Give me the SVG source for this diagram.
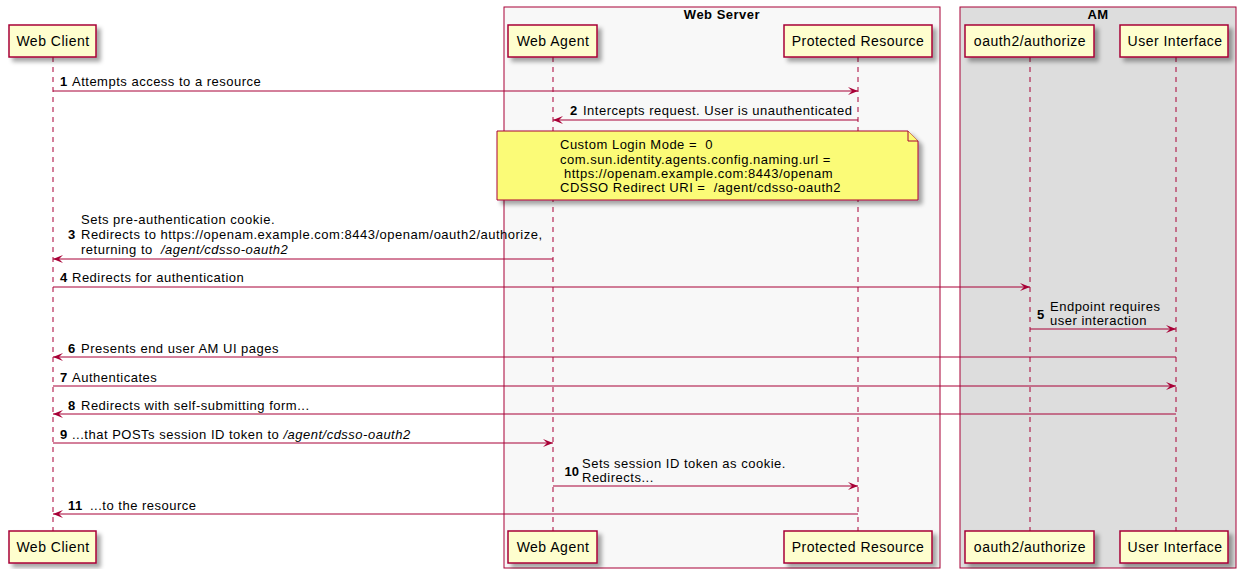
<svg xmlns="http://www.w3.org/2000/svg" width="1241" height="569" viewBox="0 0 1241 569">
<defs>
<filter id="sh" x="-20%" y="-20%" width="150%" height="160%">
<feDropShadow dx="4" dy="4" stdDeviation="2" flood-color="#000" flood-opacity="0.35"/>
</filter>
<marker id="ah" viewBox="0 0 10 8" refX="10" refY="4" markerWidth="10" markerHeight="8" markerUnits="userSpaceOnUse" orient="auto">
<path d="M0,0 L10,4 L0,8 L4,4 Z" fill="#A80036"/>
</marker>
<style>
text{font-family:"Liberation Sans",Arial,sans-serif;fill:#000;letter-spacing:0.5px}
.pt{font-size:14px;text-anchor:middle}
.t{font-size:13px}
.n{font-size:13px;font-weight:bold}
.bt{font-size:13px;font-weight:bold;text-anchor:middle}
.part{fill:#FEFECE;stroke:#A80036;stroke-width:1.5;filter:url(#sh)}
.life{stroke:#A80036;stroke-width:1;stroke-dasharray:5,5;fill:none}
.msg{stroke:#A80036;stroke-width:1;fill:none;marker-end:url(#ah)}
.box{stroke:#A80036;stroke-width:1}
.note{fill:#FBFB77;stroke:#A80036;stroke-width:1}
</style>
</defs>

<g id="box-webserver">
<rect class="box" x="504" y="7" width="436" height="561" fill="#F8F8F8"/>
<text class="bt" x="722" y="19">Web Server</text>
</g>
<g id="box-am">
<rect class="box" x="960" y="7" width="276" height="561" fill="#DDDDDD"/>
<text class="bt" x="1098" y="19">AM</text>
</g>

<g id="lifelines">
<line class="life" x1="53" y1="57" x2="53" y2="531"/>
<line class="life" x1="553" y1="57" x2="553" y2="531"/>
<line class="life" x1="858" y1="57" x2="858" y2="531"/>
<line class="life" x1="1030" y1="57" x2="1030" y2="531"/>
<line class="life" x1="1176" y1="57" x2="1176" y2="531"/>
</g>

<g id="web-client">
<rect class="part" x="9" y="25" width="87" height="32"/>
<text class="pt" x="53" y="46">Web Client</text>
<rect class="part" x="9" y="531" width="87" height="32"/>
<text class="pt" x="53" y="552">Web Client</text>
</g>
<g id="web-agent">
<rect class="part" x="508" y="25" width="89" height="32"/>
<text class="pt" x="553" y="46">Web Agent</text>
<rect class="part" x="508" y="531" width="89" height="32"/>
<text class="pt" x="553" y="552">Web Agent</text>
</g>
<g id="protected-resource">
<rect class="part" x="784" y="25" width="148" height="32"/>
<text class="pt" x="858" y="46">Protected Resource</text>
<rect class="part" x="784" y="531" width="148" height="32"/>
<text class="pt" x="858" y="552">Protected Resource</text>
</g>
<g id="oauth2-authorize">
<rect class="part" x="965" y="25" width="129" height="32"/>
<text class="pt" x="1030" y="46">oauth2/authorize</text>
<rect class="part" x="965" y="531" width="129" height="32"/>
<text class="pt" x="1030" y="552">oauth2/authorize</text>
</g>
<g id="user-interface">
<rect class="part" x="1120" y="25" width="108" height="32"/>
<text class="pt" x="1175" y="46">User Interface</text>
<rect class="part" x="1120" y="531" width="108" height="32"/>
<text class="pt" x="1175" y="552">User Interface</text>
</g>

<g id="note-config">
<path class="note" d="M497,131 L908,131 L918,141 L918,200 L497,200 Z" filter="url(#sh)"/>
<path class="note" d="M908,131 L908,141 L918,141"/>
<text class="t" x="560" y="149" xml:space="preserve">Custom Login Mode =  0</text>
<text class="t" x="560" y="164">com.sun.identity.agents.config.naming.url =</text>
<text class="t" x="564" y="178">https://openam.example.com:8443/openam</text>
<text class="t" x="560" y="192" xml:space="preserve">CDSSO Redirect URI =  /agent/cdsso-oauth2</text>
</g>

<g id="connectors">
<line class="msg" x1="53" y1="91" x2="858" y2="91"/>
<line class="msg" x1="858" y1="120" x2="553" y2="120"/>
<line class="msg" x1="553" y1="259" x2="53" y2="259"/>
<line class="msg" x1="53" y1="287" x2="1030" y2="287"/>
<line class="msg" x1="1030" y1="329" x2="1176" y2="329"/>
<line class="msg" x1="1176" y1="357" x2="53" y2="357"/>
<line class="msg" x1="53" y1="386" x2="1176" y2="386"/>
<line class="msg" x1="1176" y1="414" x2="53" y2="414"/>
<line class="msg" x1="53" y1="443" x2="553" y2="443"/>
<line class="msg" x1="553" y1="486" x2="858" y2="486"/>
<line class="msg" x1="858" y1="514" x2="53" y2="514"/>
</g>

<g id="labels">
<text class="n" x="60" y="86">1</text>
<text class="t" x="72" y="86">Attempts access to a resource</text>

<text class="n" x="570" y="115">2</text>
<text class="t" x="583" y="115">Intercepts request. User is unauthenticated</text>

<text class="n" x="68" y="239">3</text>
<text class="t" x="81" y="224">Sets pre-authentication cookie.</text>
<text class="t" x="81" y="239">Redirects to https://openam.example.com:8443/openam/oauth2/authorize,</text>
<text class="t" x="81" y="254" xml:space="preserve">returning to  <tspan font-style="italic">/agent/cdsso-oauth2</tspan></text>

<text class="n" x="60" y="282">4</text>
<text class="t" x="72" y="282">Redirects for authentication</text>

<text class="n" x="1037" y="319">5</text>
<text class="t" x="1050" y="311">Endpoint requires</text>
<text class="t" x="1050" y="325">user interaction</text>

<text class="n" x="68" y="353">6</text>
<text class="t" x="81" y="353">Presents end user AM UI pages</text>

<text class="n" x="60" y="382">7</text>
<text class="t" x="72" y="382">Authenticates</text>

<text class="n" x="68" y="410">8</text>
<text class="t" x="81" y="410">Redirects with self-submitting form...</text>

<text class="n" x="60" y="439">9</text>
<text class="t" x="72" y="439">...that POSTs session ID token to <tspan font-style="italic">/agent/cdsso-oauth2</tspan></text>

<text class="n" x="579" y="476" style="text-anchor:end;letter-spacing:0">10</text>
<text class="t" x="582" y="468">Sets session ID token as cookie.</text>
<text class="t" x="582" y="482">Redirects...</text>

<text class="n" x="68" y="510">11</text>
<text class="t" x="90" y="510">...to the resource</text>
</g>
</svg>
